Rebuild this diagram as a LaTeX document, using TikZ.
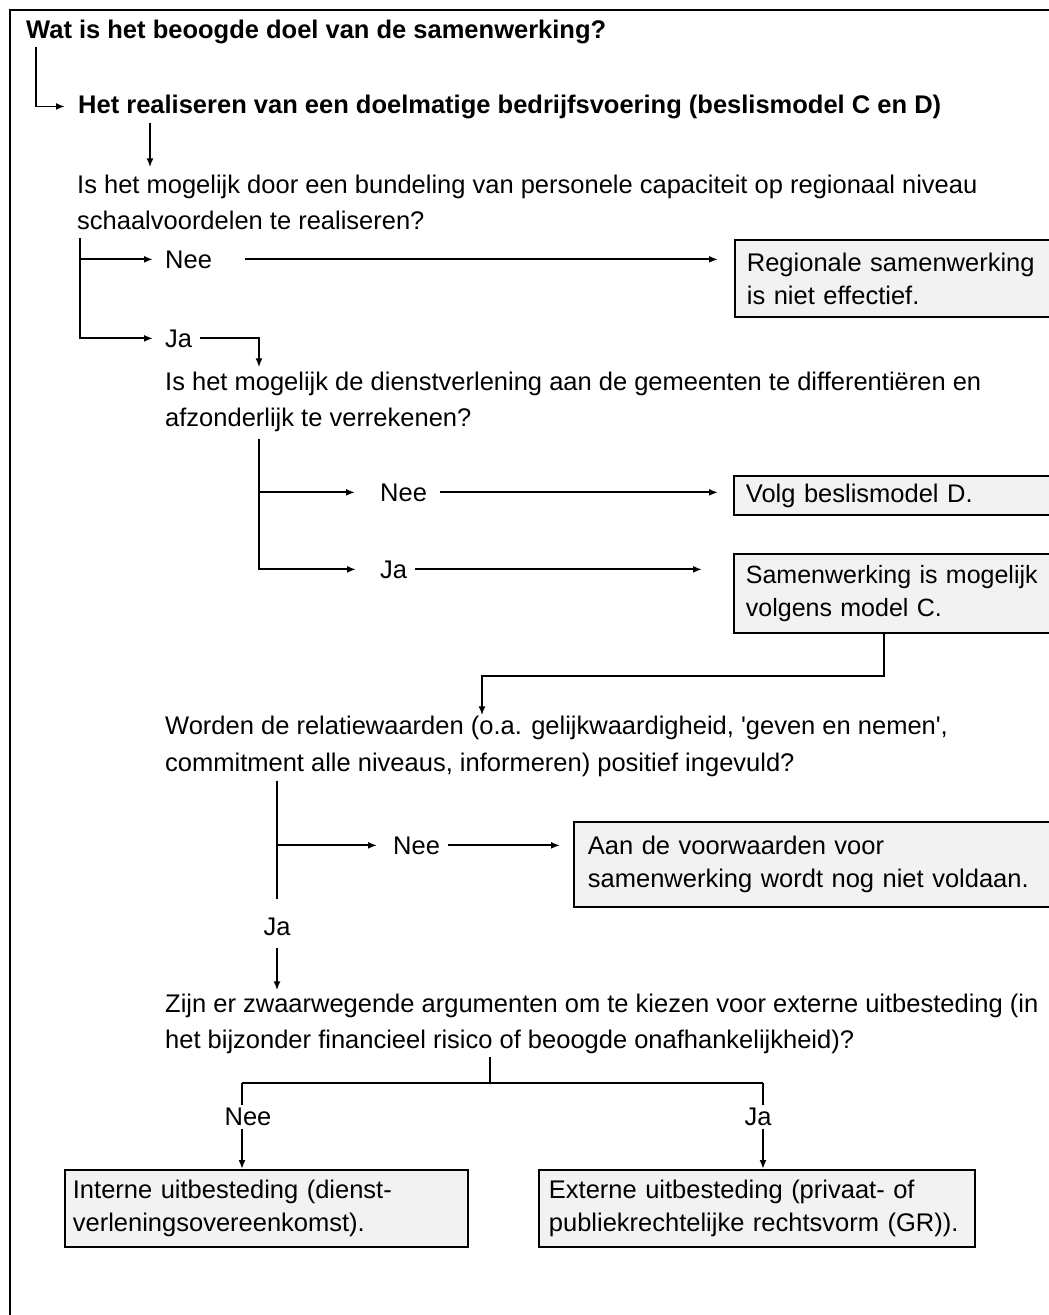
\documentclass[tikz,border=0pt]{standalone}
\usepackage{fontspec}
\setmainfont{Liberation Sans}
\newfontfamily\plainq[Ligatures=TeXOff]{Liberation Sans}
\usetikzlibrary{arrows.meta,calc}
\begin{document}
\begin{tikzpicture}[x=1pt,y=-1pt,
  txt/.style={anchor=base west,inner sep=0pt,font=\fontsize{25.5}{30}\selectfont},
  btxt/.style={anchor=base west,inner sep=0pt,font=\fontsize{25.5}{30}\selectfont\bfseries},
  lbl/.style={inner sep=0pt,font=\fontsize{25.5}{30}\selectfont},
  wire/.style={line width=1.8pt},
  arr/.style={line width=1.8pt,-{Latex[length=9pt,width=7pt]}},
  outbox/.style={draw,line width=1.8pt,fill=black!5,anchor=north west,align=left,
    inner ysep=0pt,inner xsep=12pt,font=\fontsize{25.5}{33}\selectfont}
]
\clip (0,0) rectangle (1049,1315);
\fill[white] (0,0) rectangle (1049,1315);
% outer frame (only top and left edges visible)
\draw[wire] (10,1320) -- (10,10) -- (1060,10);

% x positions of the vertical connectors
\coordinate (xa) at (36,0);
\coordinate (xb) at (150,0);
\coordinate (xc) at (80,0);
\coordinate (xd) at (259,0);
\coordinate (xe) at (482,0);
\coordinate (xf) at (277,0);
\coordinate (xg) at (490,0);
\coordinate (bend) at (884,676);
\coordinate (hL) at (242,1083);
\coordinate (hR) at (763,1083);

% texts
\node[btxt] (q1) at (26,38) {Wat is het beoogde doel van de samenwerking?};
\node[btxt] (q2) at (78,113) {Het realiseren van een doelmatige bedrijfsvoering (beslismodel C en D)};
\node[txt] (q3a) at (77,193) {Is het mogelijk door een bundeling van personele capaciteit op regionaal niveau};
\node[txt] (q3b) at (77,229) {schaalvoordelen te realiseren?};
\node[lbl,anchor=base west] (n1) at (165,268) {Nee};
\node[lbl,anchor=base west] (j1) at (165,347) {Ja};
\node[outbox,text width=330pt,minimum height=77pt] (r1) at (734,239)
  {Regionale samenwerking\\is niet effectief.};

\node[txt] (q4a) at (165,390) {Is het mogelijk de dienstverlening aan de gemeenten te differentiëren en};
\node[txt] (q4b) at (165,426) {afzonderlijk te verrekenen?};
\node[lbl,anchor=base west] (n2) at (380,501) {Nee};
\node[lbl,anchor=base west] (j2) at (380,578) {Ja};
\node[outbox,text width=330pt,minimum height=39pt] (r2) at (733,475)
  {Volg beslismodel D.};
\node[outbox,text width=330pt,minimum height=79pt,font=\fontsize{25}{33}\selectfont] (r3) at (733,553)
  {Samenwerking is mogelijk\\volgens model C.};

\node[txt] (q5a) at (165,734) {Worden de relatiewaarden (o.a. gelijkwaardigheid, {\plainq 'geven en nemen'},};
\node[txt] (q5b) at (165,771) {commitment alle niveaus, informeren) positief ingevuld?};
\node[lbl,anchor=base west] (n3) at (393,854) {Nee};
\node[outbox,text width=460pt,minimum height=85pt,inner xsep=14pt] (r4) at (573,821)
  {Aan de voorwaarden voor\\samenwerking wordt nog niet voldaan.};
\node[lbl,anchor=base] (j3) at (277,935) {Ja};

\node[txt] (q6a) at (165,1012) {Zijn er zwaarwegende argumenten om te kiezen voor externe uitbesteding (in};
\node[txt] (q6b) at (165,1048) {het bijzonder financieel risico of beoogde onafhankelijkheid)?};
\node[lbl,anchor=base] (n4) at (248,1125) {Nee};
\node[lbl,anchor=base] (j4) at (758,1125) {Ja};
\node[outbox,text width=387pt,minimum height=77pt,inner xsep=8pt] (r5) at (64,1169)
  {Interne uitbesteding (dienst-\\verleningsovereenkomst).};
\node[outbox,text width=416pt,minimum height=77pt,inner xsep=10pt] (r6) at (538,1169)
  {Externe uitbesteding (privaat- of\\publiekrechtelijke rechtsvorm (GR)).};

% connectors
\draw[arr,shorten >=13pt] ([yshift=-3pt]q1.south -| xa) |- (q2.west);
\draw[arr,shorten <=4pt,shorten >=7pt] (q2.south -| xb) -- (q3a.north -| xb);

\draw[arr,shorten >=12pt] ([yshift=-9pt]q3b.south -| xc) |- (n1.west);
\draw[arr,shorten >=12pt] ([yshift=-9pt]q3b.south -| xc) |- (j1.west);
\draw[arr,shorten <=33pt,shorten >=16pt] (n1.east) -- (n1.east -| r1.west);
\draw[arr,shorten <=8pt,shorten >=4pt] (j1.east) -| (q4a.north -| xd);

\draw[arr,shorten >=25pt] ([yshift=-8pt]q4b.south -| xd) |- (n2.west);
\draw[arr,shorten >=24pt] ([yshift=-8pt]q4b.south -| xd) |- (j2.west);
\draw[arr,shorten <=13pt,shorten >=15pt] (n2.east) -- (n2.east -| r2.west);
\draw[arr,shorten <=8pt,shorten >=31pt] (j2.east) -- (j2.east -| r3.west);

\draw[arr] (r3.south -| bend) -- (bend) -| (q5a.north -| xe);

\draw[wire,shorten >=18pt] ([yshift=-4pt]q5b.south -| xf) -- (j3.north -| xf);
\draw[arr,shorten >=16pt] ([yshift=-4pt]q5b.south -| xf) |- (n3.west);
\draw[arr,shorten <=8pt,shorten >=13pt] (n3.east) -- (n3.east -| r4.west);
\draw[arr,shorten <=13pt,shorten >=3pt] (j3.south -| xf) -- (q6a.north -| xf);

\draw[wire] ([yshift=-3pt]q6b.south -| xg) -- (xg |- hL);
\draw[wire] (hL) -- (hR);
\draw[wire,shorten >=2pt] (hL) -- (hL |- n4.north);
\draw[arr,shorten <=4pt] (hL |- n4.south) -- (hL |- r5.north);
\draw[wire,shorten >=2pt] (hR) -- (hR |- j4.north);
\draw[arr,shorten <=4pt] (hR |- j4.south) -- (hR |- r6.north);
\end{tikzpicture}
\end{document}
